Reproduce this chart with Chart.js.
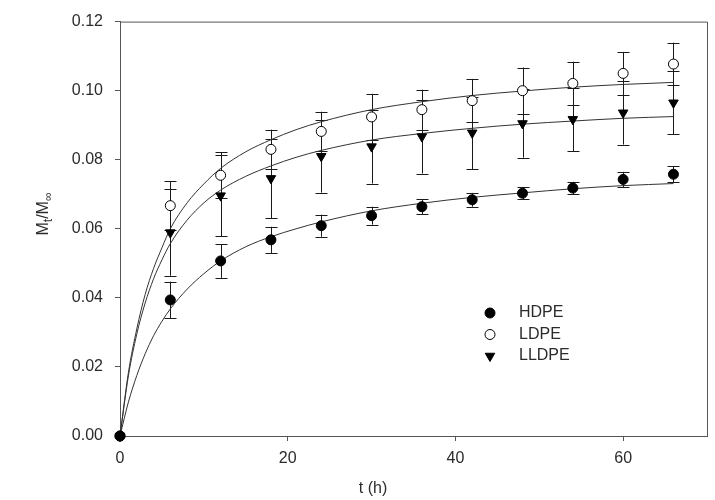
<!DOCTYPE html>
<html>
<head>
<meta charset="utf-8">
<script src="https://cdn.jsdelivr.net/npm/chart.js@4/dist/chart.umd.min.js"></script>
<style>
  html, body { margin: 0; padding: 0; background: #fff; }
  #wrap { width: 715px; height: 500px; }
</style>
</head>
<body>
<div id="wrap"><canvas id="uptakeChart"></canvas></div>
<script>
// measured points (t in hours)
const tPoints = [0, 6, 12, 18, 24, 30, 36, 42, 48, 54, 60, 66];
const hdpe     = [0, 0.0394, 0.0507, 0.0568, 0.0609, 0.0638, 0.0664, 0.0684, 0.0703, 0.0718, 0.0743, 0.0758];
const hdpeErr  = [0, 0.0053, 0.0049, 0.0038, 0.0032, 0.0026, 0.0021, 0.0020, 0.0018, 0.0018, 0.0022, 0.0023];
const ldpe     = [0, 0.0667, 0.0755, 0.0830, 0.0882, 0.0924, 0.0945, 0.0971, 0.1000, 0.1021, 0.1050, 0.1077];
const ldpeErr  = [0, 0.0070, 0.0067, 0.0057, 0.0057, 0.0067, 0.0058, 0.0063, 0.0067, 0.0063, 0.0062, 0.0062];
const lldpe    = [0, 0.0589, 0.0696, 0.0746, 0.0810, 0.0838, 0.0867, 0.0878, 0.0905, 0.0917, 0.0936, 0.0965];
const lldpeErr = [0, 0.0125, 0.0117, 0.0115, 0.0105, 0.0107, 0.0107, 0.0105, 0.0099, 0.0092, 0.0092, 0.0091];

// fitted curves
const tFit     = [0, 1, 2, 3, 4, 5, 6, 8, 10, 12, 15, 18, 21, 24, 30, 36, 42, 48, 54, 60, 66];
const hdpeFit  = [0, 0.0098, 0.0175, 0.0238, 0.0290, 0.0332, 0.0368, 0.0425, 0.0470, 0.0507, 0.0548, 0.0577, 0.0600, 0.0620, 0.0652, 0.0674, 0.0691, 0.0704, 0.0716, 0.0725, 0.0731];
const ldpeFit  = [0, 0.0183, 0.0310, 0.0410, 0.0485, 0.0545, 0.0600, 0.0675, 0.0730, 0.0775, 0.0823, 0.0858, 0.0887, 0.0910, 0.0945, 0.0968, 0.0986, 0.0999, 0.1010, 0.1018, 0.1024];
const lldpeFit = [0, 0.0174, 0.0295, 0.0385, 0.0455, 0.0510, 0.0557, 0.0625, 0.0675, 0.0712, 0.0752, 0.0782, 0.0807, 0.0827, 0.0857, 0.0876, 0.0891, 0.0903, 0.0912, 0.0920, 0.0925];

const xTicks = [0, 20, 40, 60];
const yTicks = [0, 0.02, 0.04, 0.06, 0.08, 0.10, 0.12];
const seriesNames = ['HDPE', 'LDPE', 'LLDPE'];

const FONT = 'Arial, "Liberation Sans", sans-serif';
const TEXT = '#2b2b2b';

function pts(xs, ys) {
    return xs.map((x, i) => ({ x: x, y: ys[i] }));
}

const errSets = [hdpeErr, ldpeErr, lldpeErr];

// error bars, frame, legend and axis titles
const extras = {
    id: 'extras',
    beforeDatasetsDraw(chart) {
        const ctx = chart.ctx;
        const xs = chart.scales.x, ys = chart.scales.y;
        ctx.save();
        ctx.strokeStyle = '#1a1a1a';
        ctx.lineWidth = 1;
        [0, 1, 2].forEach(function (k) {
            const vals = chart.data.datasets[k].data;
            vals.forEach(function (p, i) {
                const e = errSets[k][i];
                if (!e) return;
                const px = Math.round(xs.getPixelForValue(p.x)) + 0.5;
                const top = ys.getPixelForValue(p.y + e);
                const bot = ys.getPixelForValue(p.y - e);
                ctx.beginPath();
                ctx.moveTo(px, top); ctx.lineTo(px, bot);
                ctx.moveTo(px - 6, Math.round(top) + 0.5); ctx.lineTo(px + 6, Math.round(top) + 0.5);
                ctx.moveTo(px - 6, Math.round(bot) + 0.5); ctx.lineTo(px + 6, Math.round(bot) + 0.5);
                ctx.stroke();
            });
        });
        ctx.restore();
    },
    afterDraw(chart) {
        const ctx = chart.ctx;
        const a = chart.chartArea;
        ctx.save();
        // top and right frame
        ctx.strokeStyle = '#555';
        ctx.lineWidth = 1;
        ctx.beginPath();
        ctx.moveTo(a.left, a.top + 0.5); ctx.lineTo(a.right + 0.5, a.top + 0.5);
        ctx.lineTo(a.right + 0.5, a.bottom);
        ctx.stroke();

        // legend
        ctx.font = '16px ' + FONT;
        ctx.textBaseline = 'middle';
        ctx.textAlign = 'left';
        seriesNames.forEach(function (name, k) {
            const ds = chart.data.datasets[k];
            const y = 313 + k * 21.5;
            ctx.fillStyle = ds.pointBackgroundColor;
            ctx.strokeStyle = ds.pointBorderColor;
            ctx.lineWidth = 1;
            Chart.helpers.drawPoint(ctx, {
                pointStyle: ds.pointStyle,
                radius: ds.pointRadius,
                rotation: ds.pointRotation || 0,
                borderWidth: ds.borderWidth
            }, 490, y);
            ctx.fillStyle = TEXT;
            ctx.fillText(name, 519, y);
        });

        // x title
        ctx.fillStyle = TEXT;
        ctx.textAlign = 'center';
        ctx.textBaseline = 'middle';
        ctx.font = '16px ' + FONT;
        ctx.fillText('t (h)', 373, 489);

        // y title with subscripts
        ctx.translate(42, 214);
        ctx.rotate(-Math.PI / 2);
        const big = '16px ' + FONT, small = '12px ' + FONT;
        const parts = [['M', big, 0], ['t', small, 4], ['/M', big, 0], ['\u221E', small, 4]];
        let w = 0;
        parts.forEach(function (p) { ctx.font = p[1]; w += ctx.measureText(p[0]).width; });
        let x = -w / 2;
        ctx.textAlign = 'left';
        ctx.textBaseline = 'alphabetic';
        parts.forEach(function (p) {
            ctx.font = p[1];
            ctx.fillText(p[0], x, 6 + p[2]);
            x += ctx.measureText(p[0]).width;
        });
        ctx.restore();
    }
};

const ctx = document.getElementById('uptakeChart').getContext('2d');
new Chart(ctx, {
    type: 'scatter',
    data: {
        datasets: [
            {
                label: 'HDPE', data: pts(tPoints, hdpe), clip: false,
                pointStyle: 'circle', pointRadius: 5, borderWidth: 1,
                pointBackgroundColor: '#000', pointBorderColor: '#000'
            },
            {
                label: 'LDPE', data: pts(tPoints, ldpe), clip: false,
                pointStyle: 'circle', pointRadius: 5, borderWidth: 1,
                pointBackgroundColor: '#fff', pointBorderColor: '#000'
            },
            {
                label: 'LLDPE', data: pts(tPoints, lldpe), clip: false,
                pointStyle: 'triangle', pointRotation: 180, pointRadius: 5.5, borderWidth: 1,
                pointBackgroundColor: '#000', pointBorderColor: '#000'
            },
            { label: 'HDPE fit', data: pts(tFit, hdpeFit), showLine: true, pointRadius: 0, borderColor: '#333', borderWidth: 1, cubicInterpolationMode: 'monotone' },
            { label: 'LDPE fit', data: pts(tFit, ldpeFit), showLine: true, pointRadius: 0, borderColor: '#333', borderWidth: 1, cubicInterpolationMode: 'monotone' },
            { label: 'LLDPE fit', data: pts(tFit, lldpeFit), showLine: true, pointRadius: 0, borderColor: '#333', borderWidth: 1, cubicInterpolationMode: 'monotone' }
        ]
    },
    options: {
        responsive: true,
        maintainAspectRatio: false,
        animation: false,
        layout: { padding: { top: 15, right: 8, left: 0, bottom: 0 } },
        plugins: {
            legend: { display: false },
            tooltip: { enabled: false }
        },
        scales: {
            x: {
                type: 'linear', min: 0, max: 70,
                afterBuildTicks: function (scale) { scale.ticks = xTicks.map(v => ({ value: v })); },
                afterFit: function (scale) { scale.height = 64; },
                grid: { drawOnChartArea: false, drawTicks: true, tickLength: 5, color: '#555' },
                border: { display: true, color: '#555' },
                ticks: { color: TEXT, font: { family: FONT, size: 16 }, padding: 8, maxRotation: 0 }
            },
            y: {
                type: 'linear', min: 0, max: 0.12,
                afterBuildTicks: function (scale) { scale.ticks = yTicks.map(v => ({ value: v })); },
                afterFit: function (scale) { scale.width = 120; },
                grid: { drawOnChartArea: false, drawTicks: true, tickLength: 5, color: '#555' },
                border: { display: true, color: '#555' },
                ticks: {
                    color: TEXT, font: { family: FONT, size: 16 }, padding: 12,
                    callback: function (value) { return value.toFixed(2); }
                }
            }
        }
    },
    plugins: [extras]
});
</script>
</body>
</html>
